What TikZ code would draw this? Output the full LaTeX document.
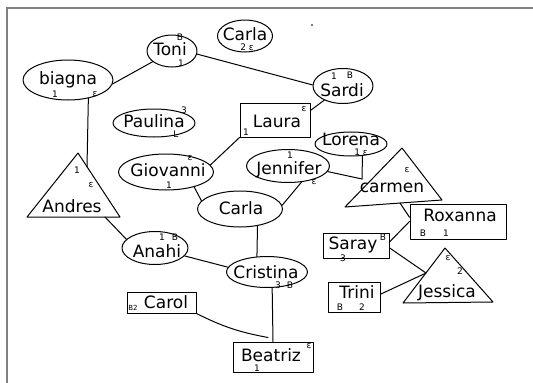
\documentclass[tikz,border=0pt]{standalone}
\usepackage{fontspec}
\setmainfont{DejaVu Sans}
\usetikzlibrary{shapes.geometric,calc}
\begin{document}
\begin{tikzpicture}[x=1pt,y=-1pt,
  pen/.style={line width=1pt,line join=round,line cap=round},
  person/.style={pen,draw,ellipse,inner sep=0pt},
  boxed/.style={pen,draw,rectangle,inner sep=0pt},
  who/.style={font=\fontsize{17}{17}\selectfont,inner sep=0pt,anchor=base},
  tag/.style={font=\fontsize{9}{9}\selectfont,inner sep=0pt},
  tie/.style={pen},
  pageedge/.style={line width=1.6pt,draw=black!50}]
\useasboundingbox (0,0) rectangle (533,383);
% page edge
\draw[pageedge] (7,383) -- (7,8) -- (533,8);
\fill (312,25) circle (0.9pt);

% ---- oval members
\node[person,minimum width=50pt,minimum height=32pt] (toni) at (172,51) {};
\node[who] (toniTxt) at (170,55) {Toni};
\node[tag] (toniB) at (180,37) {B};
\node[tag] (toni1) at (181,63.5) {1};

\node[person,minimum width=55pt,minimum height=32pt] (carlaTop) at (245,36) {};
\node[who] (carlaTopTxt) at (245,40) {Carla};
\node[tag] (carlaTopTag) at (247,47) {2 ε};

\node[person,minimum width=90pt,minimum height=40pt] (biagna) at (68,80) {};
\node[who] (biagnaTxt) at (68,84) {biagna};
\node[tag] (biagna1) at (55,94) {1};
\node[tag] (biagnaE) at (95,94) {ε};

\node[person,minimum width=60pt,minimum height=35pt] (sardi) at (343,86) {};
\node[who] (sardiTxt) at (342,96) {Sardi};
\node[tag] (sardi1) at (334,76) {1};
\node[tag] (sardiB) at (350,75) {B};

\node[person,minimum width=82pt,minimum height=28pt] (paulina) at (154,123) {};
\node[who] (paulinaTxt) at (154,127) {Paulina};
\node[tag] (paulina3) at (184,110) {3};
\node[tag] (paulinaL) at (176,134) {L};

\node[person,minimum width=72pt,minimum height=24pt] (lorena) at (351,144) {};
\node[who] (lorenaTxt) at (351,145.5) {Lorena};
\node[tag] (lorenaTag) at (361,152.5) {1 ε};

\node[person,minimum width=95pt,minimum height=36pt] (giovanni) at (166,172) {};
\node[who] (giovanniTxt) at (168,176) {Giovanni};
\node[tag] (giovanniE) at (190,158) {ε};
\node[tag] (giovanni1) at (169,185) {1};

\node[person,minimum width=83pt,minimum height=33pt] (jennifer) at (288,166) {};
\node[who] (jenniferTxt) at (289,174) {Jennifer};
\node[tag] (jennifer1) at (290,155) {1};
\node[tag] (jenniferE) at (314,182) {ε};

\node[person,minimum width=85pt,minimum height=36pt] (carla) at (240,209) {};
\node[who] (carlaTxt) at (241,214) {Carla};

\node[person,minimum width=66pt,minimum height=33pt] (anahi) at (155,248) {};
\node[who] (anahiTxt) at (157,257) {Anahi};
\node[tag] (anahi1) at (162,237) {1};
\node[tag] (anahiB) at (175,237) {B};

\node[person,minimum width=81pt,minimum height=31pt] (cristina) at (267,272) {};
\node[who] (cristinaTxt) at (266,278) {Cristina};
\node[tag] (cristina3) at (278,285) {3};
\node[tag] (cristinaB) at (290,285) {B};

% ---- boxed members
\node[boxed,minimum width=70pt,minimum height=34pt] (laura) at (275,120) {};
\node[who] (lauraTxt) at (277,127) {Laura};
\node[tag] (lauraE) at (304,109) {ε};
\node[tag] (laura1) at (246,132) {1};

\node[boxed,minimum width=96pt,minimum height=35pt] (roxanna) at (458,221.5) {};
\node[who] (roxannaTxt) at (460,221) {Roxanna};
\node[tag] (roxannaB) at (423,233) {B};
\node[tag] (roxanna1) at (446,233) {1};

\node[boxed,minimum width=66pt,minimum height=25pt] (saray) at (356,245.5) {};
\node[who] (sarayTxt) at (353,249) {Saray};
\node[tag] (sarayB) at (383,237) {B};
\node[tag] (saray3) at (343,258) {3};

\node[boxed,minimum width=52pt,minimum height=30pt] (trini) at (354,297) {};
\node[who] (triniTxt) at (357,298) {Trini};
\node[tag] (triniB) at (340,307) {B};
\node[tag] (trini2) at (362,307) {2};

\node[boxed,minimum width=69pt,minimum height=21pt] (carol) at (161.5,302.5) {};
\node[who] (carolTxt) at (166,308) {Carol};
\node[tag,font=\fontsize{7}{7}\selectfont] (carolTag) at (133,308) {B2};

\node[boxed,minimum width=80pt,minimum height=30pt] (beatriz) at (273,357) {};
\node[who] (beatrizTxt) at (271,361) {Beatriz};
\node[tag] (beatrizE) at (309,346) {ε};
\node[tag] (beatriz1) at (257,368.5) {1};

% ---- triangle members
\coordinate (andresTop) at (78,153);
\coordinate (andresL) at (27,217);
\coordinate (andresR) at (120,217);
\draw[pen] (andresTop) -- (andresL) -- (andresR) -- cycle;
\node[who] (andresTxt) at (72,212) {Andres};
\node[tag] (andres1) at (77,170) {1};
\node[tag] (andresE) at (91,185) {ε};
\coordinate (andresIn) at (87,167);
\coordinate (andresOut) at (105,217);

\coordinate (carmenTop) at (402,148);
\coordinate (carmenL) at (345,207);
\coordinate (carmenR) at (442,200);
\draw[pen] (carmenTop) -- (carmenL) -- (carmenR) -- cycle;
\node[who] (carmenTxt) at (392,192) {carmen};
\node[tag] (carmenE) at (407,170) {ε};
\coordinate (carmenIn) at (362,179);
\coordinate (carmenOut) at (400,203);

\coordinate (jessicaTop) at (445,248);
\coordinate (jessicaL) at (403,303);
\coordinate (jessicaR) at (493,302);
\draw[pen] (jessicaTop) -- (jessicaL) -- (jessicaR) -- cycle;
\node[who] (jessicaTxt) at (447,297) {Jessica};
\node[tag] (jessicaE) at (448,258) {ε};
\node[tag] (jessica2) at (460,271) {2};
\coordinate (jessicaIn) at (426,273);

% ---- ties
\draw[tie] (biagna.-5) -- (toni.209);
\draw[tie] (toni.-7) -- (sardi.178);
\draw[tie] (sardi.217) -- (laura.15);
\draw[tie] (laura.south west) -- (giovanni.9);
\draw[tie] (giovanni.-28) -- (carla.168);
\draw[tie] (jennifer.-50) -- (carla.5);
\draw[tie] (jennifer.-8) -- (carmenIn);
\draw[tie] (lorena.-46) -- (carmenIn);
\draw[tie] (carmenOut) -- (roxanna.175);
\draw[tie] (roxanna.west) -- (saray.6);
\draw[tie] (saray.-4) -- (jessicaIn);
\draw[tie] (trini.6) -- (jessicaIn);
\draw[tie] (biagna.-42) -- (andresIn);
\draw[tie] (andresOut) -- (anahi.163);
\draw[tie] (anahi.-15) -- (cristina.173);
\draw[tie] (carla.-44) -- (cristina.123);
\draw[tie] (cristina.-72) -- (beatriz.north);
\draw[tie] (carol.south east) to[bend right=8] ($(beatriz.north)+(-5,-4)$);
\end{tikzpicture}
\end{document}
